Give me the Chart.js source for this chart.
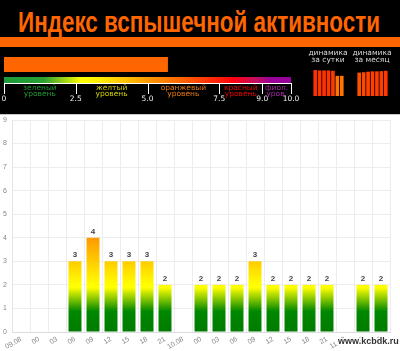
<!DOCTYPE html>
<html><head><meta charset="utf-8">
<script src="https://cdn.jsdelivr.net/npm/chart.js@4.4.1/dist/chart.umd.min.js"></script>
<style>
html,body{margin:0;padding:0;width:400px;height:351px;overflow:hidden;background:#fff;}
#hdr{position:absolute;left:0;top:0;width:400px;height:114px;background:#000;border-bottom:1px solid #c8c8c8;}
#title{position:absolute;left:18px;top:4px;color:#ff6600;font:bold 30px 'Liberation Sans',Arial,sans-serif;white-space:nowrap;transform-origin:0 0;line-height:36px;}
#strip{position:absolute;left:0;top:37px;width:400px;height:10px;background:#ff6600;}
.cap{position:absolute;color:#d8d8d8;font:7.5px 'DejaVu Sans',sans-serif;text-align:center;line-height:7px;width:60px;top:49px;}
#idx{position:absolute;left:0;top:50px;}
#day{position:absolute;left:313px;top:58px;}
#mon{position:absolute;left:357px;top:58px;}
#main{position:absolute;left:0;top:115px;}
#wm{position:absolute;left:338px;top:336px;font:bold 9px 'Liberation Sans',Arial,sans-serif;color:#333;
  text-shadow:1px 0 0 #fff,-1px 0 0 #fff,0 1px 0 #fff,0 -1px 0 #fff,1px 1px 0 #fff,-1px -1px 0 #fff,1px -1px 0 #fff,-1px 1px 0 #fff;}
</style>
</head>
<body>
<div id="hdr">
  <div id="title">Индекс вспышечной активности</div>
  <div id="strip"></div>
  <canvas id="idx" width="300" height="62"></canvas>
  <div class="cap" style="left:298px">динамика<br>за сутки</div>
  <div class="cap" style="left:342px">динамика<br>за месяц</div>
  <canvas id="day" width="31" height="38"></canvas>
  <canvas id="mon" width="31" height="38"></canvas>
</div>
<canvas id="main" width="400" height="236"></canvas>
<div id="wm">www.kcbdk.ru</div>
<script>
// ---- data ----
const categories = ['09.08','00','03','06','09','12','15','18','21','10.08','00','03','06','09','12','15','18','21','11.08','00','03'];
const flareIndex = [0,0,0,3,4,3,3,3,2,0,2,2,2,3,2,2,2,2,0,2,2];
const yTicks = [0,1,2,3,4,5,6,7,8,9];
const currentIndex = [5.7];
const scaleTicks = [0, 2.5, 5.0, 7.5, 9.0, 10.0];
const scaleTickLabels = ['0','2.5','5.0','7.5','9.0','10.0'];
const levelNames = [['зеленый','уровень'],['желтый','уровень'],['оранжевый','уровень'],['красный','уровень'],['фиол.','уров.']];
const dayValues = [7.2, 7.1, 7.1, 7.1, 7.0, 5.6, 5.6];
const monthValues = [6.5, 6.6, 6.75, 6.85, 6.85, 6.9, 7.0];

// title fit
(function(){const t=document.getElementById('title');const w=t.getBoundingClientRect().width;t.style.transform='scaleX('+(362/w)+')';})();

const levelColors = ['#1f9a2f','#d4d400','#ee7a10','#ee0000','#a626a6'];

// ---- index indicator chart ----
const scalePlugin = {
  id:'scalePlugin',
  afterDraw(chart){
    const ctx=chart.ctx, xs=chart.scales.x;
    const x0=xs.getPixelForValue(0), x1=xs.getPixelForValue(10);
    const g=ctx.createLinearGradient(x0,0,x1,0);
    g.addColorStop(0,'#1c9a3a'); g.addColorStop(0.14,'#2aa030'); g.addColorStop(0.27,'#ffff00');
    g.addColorStop(0.33,'#fff000'); g.addColorStop(0.5,'#ff9900'); g.addColorStop(0.65,'#ff5500');
    g.addColorStop(0.8,'#ff0010'); g.addColorStop(0.88,'#c01060'); g.addColorStop(0.93,'#990099'); g.addColorStop(1,'#990099');
    ctx.save();
    ctx.fillStyle=g; ctx.fillRect(x0,27,x1-x0,6);
    ctx.strokeStyle='#ffffff'; ctx.lineWidth=1;
    ctx.beginPath(); ctx.moveTo(x0,33.5); ctx.lineTo(x1,33.5); ctx.stroke();
    scaleTicks.forEach(v=>{const x=Math.round(xs.getPixelForValue(v))+0.5; ctx.beginPath(); ctx.moveTo(x,33); ctx.lineTo(x,44); ctx.stroke();});
    ctx.font="7.5px 'DejaVu Sans',sans-serif"; ctx.textAlign='center'; ctx.textBaseline='middle';
    ctx.fillStyle='#f0f0f0';
    scaleTicks.forEach((v,i)=>ctx.fillText(scaleTickLabels[i], xs.getPixelForValue(v), 49.5));
    levelNames.forEach((nm,i)=>{
      const cx=(xs.getPixelForValue(scaleTicks[i])+xs.getPixelForValue(scaleTicks[i+1]))/2;
      ctx.fillStyle=levelColors[i];
      ctx.fillText(nm[0],cx,38); ctx.fillText(nm[1],cx,44.5);
    });
    ctx.restore();
  }
};
new Chart(document.getElementById('idx'),{
  type:'bar',
  data:{labels:['index'],datasets:[{data:currentIndex,backgroundColor:'#ff6600',barPercentage:1,categoryPercentage:1}]},
  options:{indexAxis:'y',responsive:false,animation:false,events:[],
    layout:{padding:{left:4,right:9,top:7,bottom:40}},
    plugins:{legend:{display:false},tooltip:{enabled:false}},
    scales:{x:{display:false,min:0,max:10},y:{display:false}}},
  plugins:[scalePlugin]
});

// ---- mini charts ----
function miniColor(v){
  const t=Math.max(0,Math.min(1,(v-5.5)/1.7));
  const gch=Math.round(0x78-(0x78-0x30)*t);
  return 'rgb(255,'+gch+',0)';
}
function miniChart(id, values){
  new Chart(document.getElementById(id),{
    type:'bar',
    data:{labels:values.map((_,i)=>String(i)),datasets:[{data:values,backgroundColor:values.map(miniColor),barPercentage:0.82,categoryPercentage:1}]},
    options:{responsive:false,animation:false,events:[],layout:{padding:{top:2}},
      plugins:{legend:{display:false},tooltip:{enabled:false}},
      scales:{x:{display:false},y:{display:false,min:0,max:10}}}
  });
}
miniChart('day',dayValues);
miniChart('mon',monthValues);

// ---- main chart ----
function barFill(c){
  const chart=c.chart; if(!chart.chartArea) return '#ffff00';
  const y=chart.scales.y; const y0=y.getPixelForValue(0), y4=y.getPixelForValue(4);
  const g=chart.ctx.createLinearGradient(0,y0,0,y4);
  g.addColorStop(0,'#007a00'); g.addColorStop(0.22,'#008800'); g.addColorStop(0.47,'#ffff00');
  g.addColorStop(0.5,'#ffff00'); g.addColorStop(0.75,'#ffcc00'); g.addColorStop(1,'#ff9900');
  return g;
}
const valueLabels = {
  id:'valueLabels',
  afterDatasetsDraw(chart){
    const ctx=chart.ctx, meta=chart.getDatasetMeta(0), d=chart.data.datasets[0].data;
    ctx.save(); ctx.font="bold 8px 'Liberation Sans',Arial,sans-serif"; ctx.fillStyle='#444';
    ctx.textAlign='center'; ctx.textBaseline='alphabetic';
    meta.data.forEach((bar,i)=>{ if(!d[i]) return; ctx.fillText(String(d[i]),bar.x,bar.y-4); });
    ctx.restore();
  }
};
new Chart(document.getElementById('main'),{
  type:'bar',
  data:{labels:categories,datasets:[{data:flareIndex,backgroundColor:barFill,borderWidth:0}]},
  options:{responsive:false,animation:false,events:[],
    layout:{padding:{left:0,right:10,top:5,bottom:0}},
    plugins:{legend:{display:false},tooltip:{enabled:false}},
    scales:{
      x:{grid:{color:'#ededed',drawTicks:false},border:{color:'#dcdcdc'},
        ticks:{color:'#888',font:{size:7,family:"'Liberation Sans',Arial"},minRotation:30,maxRotation:30,padding:3,autoSkip:false},
        afterFit(s){s.height=19;s.paddingLeft=0;s.paddingRight=0;}},
      y:{min:0,max:9,grid:{color:'#ededed',drawTicks:false},border:{color:'#e4e4e4'},
        afterBuildTicks(s){s.ticks=yTicks.map(v=>({value:v}));},
        ticks:{color:'#888',font:{size:7,family:"'Liberation Sans',Arial"},padding:5},
        afterFit(s){s.width=12;s.paddingTop=0;s.paddingBottom=0;}}
    }},
  plugins:[valueLabels]
});
</script>
</body></html>
